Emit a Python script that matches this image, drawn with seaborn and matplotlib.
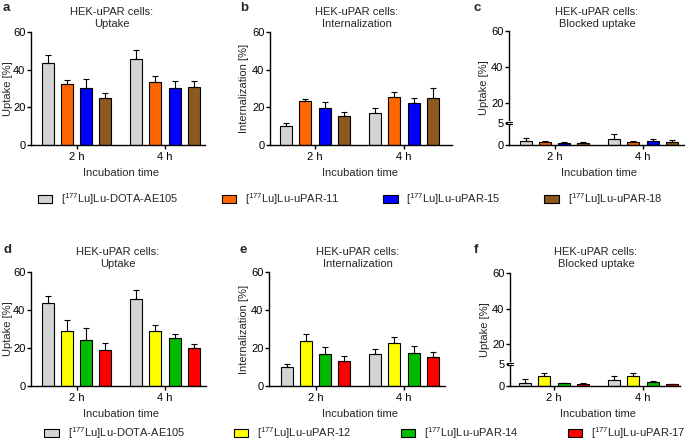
import numpy as np
import pandas as pd
import matplotlib.pyplot as plt
import seaborn as sns
from matplotlib.patches import Patch

# ---- data (mean and SD per compound, order = [2 h, 4 h]) ----
times = ["2 h", "4 h"]

top_names = [r"[$^{177}$Lu]Lu-DOTA-AE105", r"[$^{177}$Lu]Lu-uPAR-11",
             r"[$^{177}$Lu]Lu-uPAR-15", r"[$^{177}$Lu]Lu-uPAR-18"]
top_colors = ["#d3d3d3", "#ff6600", "#0000ff", "#8b5a1e"]
bot_names = [r"[$^{177}$Lu]Lu-DOTA-AE105", r"[$^{177}$Lu]Lu-uPAR-12",
             r"[$^{177}$Lu]Lu-uPAR-14", r"[$^{177}$Lu]Lu-uPAR-17"]
bot_colors = ["#d3d3d3", "#ffff00", "#00bb00", "#ff0000"]

a_mean = [[43.8, 45.9], [32.6, 33.2], [30.5, 30.4], [24.7, 30.9]]
a_sd = [[3.8, 4.4], [1.8, 3.5], [4.4, 3.7], [2.7, 3.0]]
b_mean = [[10.2, 16.8], [23.3, 25.6], [19.8, 22.1], [15.4, 25.2]]
b_sd = [[1.6, 3.0], [1.1, 2.3], [3.1, 3.0], [2.1, 4.8]]
c_mean = [[0.8, 1.4], [0.6, 0.6], [0.5, 0.9], [0.4, 0.7]]
c_sd = [[0.7, 1.1], [0.2, 0.2], [0.2, 0.4], [0.2, 0.5]]
d_mean = [[43.6, 45.7], [29.2, 28.7], [24.1, 25.2], [19.0, 19.9]]
d_sd = [[3.9, 4.8], [5.3, 3.5], [6.2, 2.4], [3.5, 2.3]]
e_mean = [[10.2, 16.9], [23.8, 22.7], [16.9, 17.6], [13.2, 15.5]]
e_sd = [[1.6, 2.6], [3.5, 3.3], [3.5, 3.7], [2.5, 2.3]]
f_mean = [[0.8, 1.3], [2.3, 2.3], [0.6, 0.9], [0.4, 0.4]]
f_sd = [[0.7, 1.1], [0.7, 0.6], [0.2, 0.2], [0.2, 0.1]]

sns.set_theme(style="ticks")
plt.rcParams["font.family"] = ["Liberation Sans", "DejaVu Sans"]
plt.rcParams["mathtext.fontset"] = "custom"
plt.rcParams["mathtext.rm"] = "Liberation Sans"
plt.rcParams["mathtext.it"] = "Liberation Sans:italic"
plt.rcParams["font.size"] = 8

W, H = 685, 448
fig = plt.figure(figsize=(W / 100, H / 100), dpi=100)


def to_df(names, means, sds):
    rows = []
    for n, m, s in zip(names, means, sds):
        for t, mv, sv in zip(times, m, s):
            rows.append({"time": t, "compound": n, "value": mv, "sd": sv})
    return pd.DataFrame(rows)


# broken y-axis (0-5 stretched, gap, 20-60) as a piecewise linear scale
brk_in = [-10, 0, 5, 20, 60, 100]
brk_out = [-44, 0, 22, 42, 114, 186]


def fwd(y):
    return np.interp(y, brk_in, brk_out)


def inv(y):
    return np.interp(y, brk_out, brk_in)


# pixel boxes: left, right, top, bottom, group centres (2 h, 4 h)
panels = [
    dict(letter="a", sub="Uptake", ylab="Uptake [%]", mean=a_mean, sd=a_sd, top=True,
         box=(31, 205, 32, 145), cx=(76.5, 165), tx=112, lx=8, lt=(3, 8), broken=False),
    dict(letter="b", sub="Internalization", ylab="Internalization [%]", mean=b_mean, sd=b_sd, top=True,
         box=(270, 452, 32, 145), cx=(315, 404), tx=357, lx=244, lt=(240, 8), broken=False),
    dict(letter="c", sub="Blocked uptake", ylab="Uptake [%]", mean=c_mean, sd=c_sd, top=True,
         box=(509, 684, 31, 145), cx=(554.5, 643), tx=597, lx=484, lt=(474, 8), broken=True),
    dict(letter="d", sub="Uptake", ylab="Uptake [%]", mean=d_mean, sd=d_sd, top=False,
         box=(31, 206, 272, 386), cx=(76.5, 165), tx=118, lx=8, lt=(3, 250), broken=False),
    dict(letter="e", sub="Internalization", ylab="Internalization [%]", mean=e_mean, sd=e_sd, top=False,
         box=(269, 445, 272, 386), cx=(315.5, 404), tx=358, lx=244, lt=(240, 250), broken=False),
    dict(letter="f", sub="Blocked uptake", ylab="Uptake [%]", mean=f_mean, sd=f_sd, top=False,
         box=(510, 680, 273, 386), cx=(554, 643), tx=596, lx=485, lt=(474, 250), broken=True),
]

for p in panels:
    names = top_names if p["top"] else bot_names
    colors = top_colors if p["top"] else bot_colors
    df = to_df(names, p["mean"], p["sd"])
    l, r, t, b = p["box"]
    ax = fig.add_axes([l / W, 1 - b / H, (r - l) / W, (b - t) / H])

    sns.barplot(data=df, x="time", y="value", hue="compound", order=times,
                hue_order=names, palette=colors, saturation=1, errorbar=None,
                width=0.872, gap=0.376, edgecolor="black", linewidth=0.8,
                legend=False, ax=ax)

    # upward-only SD bars
    sd_lookup = {(n, tm): s for n, tm, s in zip(df["compound"], df["time"], df["sd"])}
    for n, cont in zip(names, ax.containers):
        for bar in cont:
            xc = bar.get_x() + bar.get_width() / 2
            tm = times[int(round(xc))]
            ax.errorbar(xc, bar.get_height(), yerr=[[0], [sd_lookup[(n, tm)]]],
                        fmt="none", ecolor="black", elinewidth=0.8,
                        capsize=2.5, capthick=0.8, zorder=3)

    if p["broken"]:
        ax.set_yscale("function", functions=(fwd, inv))
        ax.set_yticks([0, 5, 20, 40, 60])
    else:
        ax.set_yticks([0, 20, 40, 60])
    ax.set_ylim(0, 60)
    c0, c1 = p["cx"]
    ax.set_xlim((l - c0) / (c1 - c0), (r - c0) / (c1 - c0))

    sns.despine(ax=ax)
    for s in ["left", "bottom"]:
        ax.spines[s].set_linewidth(1.0)
        ax.spines[s].set_color("black")
    ax.tick_params(axis="both", direction="out", length=3, width=1.0,
                   labelsize=8, colors="black")
    ax.tick_params(axis="y", pad=1)
    ax.tick_params(axis="x", pad=2)

    ax.set_xlabel("Incubation time", fontsize=8)
    ax.set_ylabel(p["ylab"], fontsize=8)
    hpx = b - t
    ax.xaxis.set_label_coords(((c0 + c1) / 2 - l) / (r - l), -22.5 / hpx)
    ax.yaxis.set_label_coords((p["lx"] + 5 - l) / (r - l), 0.5)

    if p["broken"]:
        f5 = fwd(5) / fwd(60)
        dy = 1.3 / hpx
        dx = 3.0 / (r - l)
        ax.plot([0, 0], [f5 - dy, f5 + dy], color="white", lw=1.6,
                transform=ax.transAxes, clip_on=False, zorder=5)
        for yy in (f5 - dy, f5 + dy):
            ax.plot([-dx, dx], [yy, yy], color="black", lw=0.8,
                    transform=ax.transAxes, clip_on=False, zorder=6)

    ymid = 18 if p["top"] else 258
    fig.text(p["tx"] / W, 1 - ymid / H, "HEK-uPAR cells:\n" + p["sub"],
             ha="center", va="center", fontsize=8, linespacing=1.3)
    fig.text(p["lt"][0] / W, 1 - p["lt"][1] / H, p["letter"], ha="left",
             va="center", fontsize=9.5, fontweight="bold")

# legends
for names, colors, ycen, xcen, cs in [(top_names, top_colors, 199, 350, 3.9),
                                      (bot_names, bot_colors, 433, 365, 4.4)]:
    handles = [Patch(facecolor=c, edgecolor="black", linewidth=0.8, label=n)
               for n, c in zip(names, colors)]
    fig.legend(handles=handles, ncol=4, loc="center",
               bbox_to_anchor=(xcen / W, 1 - ycen / H), frameon=False,
               fontsize=8, handlelength=1.3, handleheight=0.6,
               handletextpad=0.8, columnspacing=cs, borderpad=0)

fig.savefig("out.png", dpi=100)
